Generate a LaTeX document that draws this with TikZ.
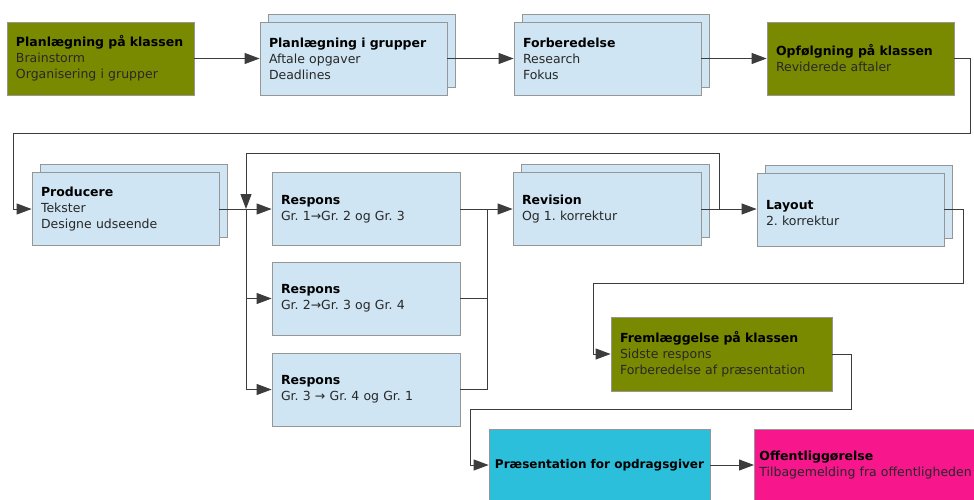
\documentclass[tikz,border=0pt]{standalone}
\usepackage{fontspec}
\setmainfont{DejaVu Sans}
\usetikzlibrary{arrows.meta,shadows,calc}
\definecolor{olivebox}{RGB}{122,138,0}
\definecolor{bluebox}{RGB}{207,229,243}
\definecolor{cyanbox}{RGB}{43,191,219}
\definecolor{magentabox}{RGB}{247,22,140}
\definecolor{boxborder}{RGB}{150,150,150}
\definecolor{linecol}{RGB}{60,60,60}
\definecolor{textgray}{RGB}{40,40,40}
\frenchspacing
\begin{document}
\begin{tikzpicture}[x=1pt,y=-1pt,
  box/.style={draw=boxborder, line width=0.8pt, rectangle, inner xsep=9pt, inner ysep=0pt,
    align=left, text=textgray, font=\fontsize{12.5}{16}\selectfont\frenchspacing,
    text width=169pt, minimum height=73pt},
  wide/.style={text width=203pt},
  olive/.style={box, fill=olivebox},
  blue/.style={box, fill=bluebox},
  stack/.style={blue, copy shadow={shadow xshift=8pt, shadow yshift=8pt, fill=bluebox, draw=boxborder}},
  conn/.style={draw=linecol, line width=1pt},
  arr/.style={conn, -{Triangle[length=15pt,width=11pt]}}
]
\useasboundingbox (0,0) rectangle (974,499);

% top row
\node[olive] (b1) at (100.5,58.5) {\textcolor{black}{\textbf{Planlægning på klassen}}\\Brainstorm\\Organisering i grupper};
\node[stack] (b2) at (353.5,58.5) {\textcolor{black}{\textbf{Planlægning i grupper}}\\Aftale opgaver\\Deadlines};
\node[stack] (b3) at (607.5,58.5) {\textcolor{black}{\textbf{Forberedelse}}\\Research\\Fokus};
\node[olive] (b4) at (860.5,58.5) {\textcolor{black}{\textbf{Opfølgning på klassen}}\\Reviderede aftaler};

% middle row
\node[stack] (b5) at (125.5,209) {\textcolor{black}{\textbf{Producere}}\\Tekster\\Designe udseende};
\node[blue, text width=170pt] (r1) at (366,209) {\textcolor{black}{\textbf{Respons}}\\Gr. 1→Gr. 2 og Gr. 3};
\node[blue, text width=170pt] (r2) at (366,298.5) {\textcolor{black}{\textbf{Respons}}\\Gr. 2→Gr. 3 og Gr. 4};
\node[blue, text width=170pt] (r3) at (366,389.5) {\textcolor{black}{\textbf{Respons}}\\Gr. 3 → Gr. 4 og Gr. 1};
\node[stack, text width=170pt] (rev) at (607,209) {\textcolor{black}{\textbf{Revision}}\\Og 1. korrektur};
\node[stack] (lay) at (850.5,210) {\mbox{}\\\textcolor{black}{\textbf{Layout}}\\2. korrektur};

% lower rows
\node[olive, wide, minimum height=74pt] (frem) at (721.5,354) {\textcolor{black}{\textbf{Fremlæggelse på klassen}}\\Sidste respons\\Forberedelse af præsentation};
\node[box, fill=cyanbox, text width=, align=center, minimum width=221pt, minimum height=72pt, inner xsep=2pt, font=\fontsize{12}{16}\selectfont] (pres) at (599.5,465) {\textcolor{black}{\textbf{Præsentation for opdragsgiver}}};
\node[box, fill=magentabox, text width=216pt, inner xsep=5pt, minimum height=72pt, anchor=west] (off) at (754,465) {\textcolor{black}{\textbf{Offentliggørelse}}\\Tilbagemelding fra offentligheden};

% connectors
\coordinate (c1) at (970,58.5);
\coordinate (c2) at (970,133);
\coordinate (c3) at (13,133);
\coordinate (c4) at (13,209);
\draw[arr] (b1) -- (b2);
\draw[arr] (b2) -- (b3);
\draw[arr] (b3) -- (b4);
\draw[arr] (b4.east) -- (c1) -- (c2) -- (c3) -- (c4) -- (b5.west);

\coordinate (split) at (246,209);
\coordinate (splittop) at (246,153);
\coordinate (split2) at (246,298.5);
\coordinate (split3) at (246,389.5);
\draw[arr] (b5.east) -- (r1.west);
\draw[conn] (split) -- (split3);
\draw[arr] (split2) -- (r2.west);
\draw[arr] (split3) -- (r3.west);

\coordinate (merge1) at (487,209);
\coordinate (merge2) at (487,298.5);
\coordinate (merge3) at (487,389.5);
\draw[conn] (r1.east) -- (merge1);
\draw[conn] (r2.east) -- (merge2);
\draw[conn] (r3.east) -- (merge3) -- (merge1);
\draw[arr] (merge1) -- (rev.west);

\coordinate (fb1) at (719,209);
\coordinate (fb2) at (719,153);
\draw[arr] (rev.east) -- (lay.west |- rev.east);
\draw[arr] (fb1) -- (fb2) -- (splittop) -- (split);

\coordinate (l1) at (963,209);
\coordinate (l2) at (963,283);
\coordinate (l3) at (593,283);
\coordinate (l4) at (593,354);
\draw[arr] (lay.east |- l1) -- (l1) -- (l2) -- (l3) -- (l4) -- (frem.west);

\coordinate (f1) at (851,354);
\coordinate (f2) at (851,409);
\coordinate (f3) at (470,409);
\coordinate (f4) at (470,465);
\draw[arr] (frem.east) -- (f1) -- (f2) -- (f3) -- (f4) -- (pres.west);
\draw[arr] (pres) -- (off);
\end{tikzpicture}
\end{document}
